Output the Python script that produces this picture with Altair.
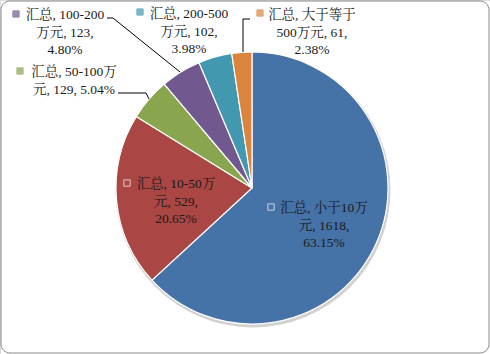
import altair as alt
import pandas as pd

# ---- data ----
series_name = "汇总"
categories = ["小于10万元", "10-50万元", "50-100万元", "100-200万元", "200-500万元", "大于等于500万元"]
counts = [1618, 529, 129, 123, 102, 61]
percents = ["63.15%", "20.65%", "5.04%", "4.80%", "3.98%", "2.38%"]
colors = ["#4572A7", "#AA4643", "#89A54E", "#71588F", "#4198AF", "#DB843D"]

pie_df = pd.DataFrame({"cat": categories, "count": counts, "idx": list(range(len(categories)))})

# ---- label layout (wrapping and placement) ----
CX, CY, R = 252, 188, 136
# chars per wrapped line (last line takes the rest)
wraps = [[9, 8], [10, 7], [11], [11, 8], [11, 8], [8, 10]]
line_x = [324, 176, 74, 65, 189, 312]
line_y0 = [208, 184, 72, 15, 14, 15]
marker_xy = [(271, 207), (127, 183), (20, 71), (16, 14), (140, 12), (260, 13)]
inside = [True, True, False, False, False, False]
LH = 17.5

line_rows, marker_rows = [], []
for i, cat in enumerate(categories):
    full = f"{series_name}, {cat}, {counts[i]}, {percents[i]}"
    lines, pos = [], 0
    for w in wraps[i]:
        lines.append(full[pos:pos + w].strip())
        pos += w
    lines.append(full[pos:].strip())
    for k, ln in enumerate(lines):
        line_rows.append({"line": ln, "x": line_x[i], "y": line_y0[i] + k * LH})
    mx, my = marker_xy[i]
    marker_rows.append({
        "x": mx, "y": my,
        "fill": colors[i],
        "stroke": "white" if inside[i] else colors[i],
        "op": 0 if inside[i] else 1,
    })
lines_df = pd.DataFrame(line_rows)
markers_df = pd.DataFrame(marker_rows)

leaders = {
    "p": [(107, 18), (113, 18), (180, 72)],
    "g": [(118, 93), (146, 93), (149, 99)],
    "o": [(250, 19), (243, 19), (243, 52)],
}
lead_rows = []
for key, pts in leaders.items():
    for j, (x, y) in enumerate(pts):
        lead_rows.append({"k": key, "o": j, "x": x, "y": y})
lead_df = pd.DataFrame(lead_rows)

FONT = "Liberation Serif, Noto Serif CJK SC, Noto Sans CJK SC, serif"

one = pd.DataFrame({"a": [0]})

border = alt.Chart(one).mark_rect(
    fill="white", stroke="#8a8a8a", strokeWidth=1, cornerRadius=9
).encode(x=alt.value(1), x2=alt.value(489), y=alt.value(1), y2=alt.value(353))

shadow = alt.Chart(one).mark_arc(
    outerRadius=R + 1.5, theta=0, theta2=6.2832, fill="#bdbdbd", opacity=0.7
).encode(x=alt.value(CX + 1), y=alt.value(CY + 2))

pie = alt.Chart(pie_df).mark_arc(
    outerRadius=R, stroke="white", strokeWidth=1.2
).encode(
    theta=alt.Theta("count:Q", stack=True),
    color=alt.Color("cat:N", scale=alt.Scale(domain=categories, range=colors), legend=None),
    order=alt.Order("idx:Q"),
    x=alt.value(CX),
    y=alt.value(CY),
)

leader_lines = alt.Chart(lead_df).mark_line(color="black", strokeWidth=1).encode(
    x=alt.X("x:Q", scale=None),
    y=alt.Y("y:Q", scale=None),
    detail="k:N",
    order="o:Q",
)

markers = alt.Chart(markers_df).mark_square(size=40, strokeWidth=1).encode(
    x=alt.X("x:Q", scale=None),
    y=alt.Y("y:Q", scale=None),
    fill=alt.Fill("fill:N", scale=None),
    fillOpacity=alt.FillOpacity("op:Q", scale=None),
    stroke=alt.Stroke("stroke:N", scale=None),
)

texts = alt.Chart(lines_df).mark_text(
    font=FONT, fontSize=13.5, color="#1a1a1a", align="center", baseline="middle"
).encode(
    x=alt.X("x:Q", scale=None),
    y=alt.Y("y:Q", scale=None),
    text="line:N",
)

chart = alt.layer(border, shadow, pie, leader_lines, markers, texts).properties(
    width=490, height=354, padding=0, autosize=alt.AutoSizeParams(type="none")
).configure_view(stroke=None).configure(background="white")

chart.save("out.html", embed_options={"renderer": "svg", "actions": False})
